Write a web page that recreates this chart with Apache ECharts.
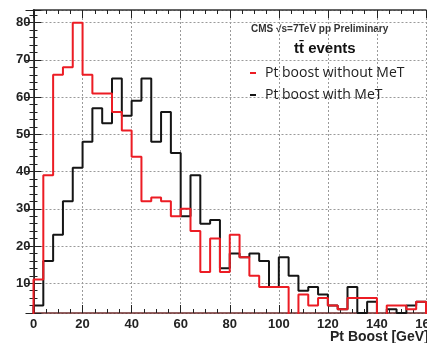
<!DOCTYPE html>
<html><head><meta charset="utf-8">
<script src="https://cdn.jsdelivr.net/npm/echarts@6/dist/echarts.min.js"></script>
<style>html,body{margin:0;padding:0;background:#fff}#c{width:427px;height:343px}</style>
</head><body><div id="c"></div>
<script>
// ---- data ----
const binWidth = 4;                       // GeV per bin
const xRange = [0, 160];
const yRange = [2, 83.4];
const xTickLabels = [0, 20, 40, 60, 80, 100, 120, 140, 160];
const yTickLabels = [10, 20, 30, 40, 50, 60, 70, 80];
const seriesNames = ['Pt boost without MeT', 'Pt boost with MeT'];
const ptBoostWithoutMeT = [11,39,66,68,80,66,61,61,56,51,44,32,33,32,28,30,24,13,22,13,23,17,12,9,9,9,0,7,4,6,4,3,6,6,6,0,4,4,3,5];
const ptBoostWithMeT    = [4,16,23,32,41,48,57,53,65,55,59,65,48,56,45,28,39,26,27,14,18,17,18,16,9,17,12,8,9,7,4,3,9,2,5,0,3,2,4,5];
const headerText = 'CMS \u221As=7TeV pp Preliminary';
const sampleText = 't\u0074\u0304 events';
const xTitle = 'Pt Boost [GeV]';

// histogram outline: left edge of each bin, closed at both ends
function histData(counts) {
  const d = [[xRange[0], 0]];
  counts.forEach((v, i) => d.push([xRange[0] + i * binWidth, v]));
  d.push([xRange[0] + counts.length * binWidth, counts[counts.length - 1]]);
  d.push([xRange[0] + counts.length * binWidth, 0]);
  return d;
}

const chart = echarts.init(document.getElementById('c'), null, {renderer: 'canvas'});
const tickColor = '#222';
const gridLine = {show: true, lineStyle: {color: '#9a9a9a', type: [2, 2], width: 1}};
const labelFont = {fontFamily: 'Liberation Sans', fontWeight: 'bold', fontSize: 13, color: '#222'};

chart.setOption({
  animation: false,
  backgroundColor: '#fff',
  grid: {left: 33.5, right: 1, top: 10, bottom: 30, containLabel: false, outerBoundsMode: 'none'},
  legend: {
    orient: 'vertical', left: 245, top: 61, itemGap: 8,
    icon: 'rect', itemWidth: 6, itemHeight: 2,
    data: seriesNames,
    textStyle: {fontFamily: 'Open Sans', fontSize: 14, color: '#222', padding: [0, 0, 0, 4]}
  },
  xAxis: [{
    type: 'value', position: 'bottom', min: xRange[0], max: xRange[1], interval: 20,
    axisLine: {show: true, lineStyle: {color: '#6e2b2b', width: 1.5}},
    axisTick: {show: true, inside: true, length: 8, lineStyle: {color: tickColor}},
    minorTick: {show: true, splitNumber: 4, length: 4, lineStyle: {color: tickColor}},
    splitLine: gridLine,
    axisLabel: Object.assign({margin: 5, customValues: xTickLabels, hideOverlap: false}, labelFont)
  }, {
    type: 'value', position: 'top', min: xRange[0], max: xRange[1], interval: 20,
    axisLine: {show: true, lineStyle: {color: '#333', width: 1.5}},
    axisTick: {show: true, inside: true, length: 8, lineStyle: {color: tickColor}},
    minorTick: {show: true, splitNumber: 4, length: 4, lineStyle: {color: tickColor}},
    splitLine: {show: false}, axisLabel: {show: false}
  }],
  yAxis: [{
    type: 'value', position: 'left', min: yRange[0], max: yRange[1], splitNumber: 8,
    axisLine: {show: true, lineStyle: {color: '#222', width: 2}},
    axisTick: {show: true, inside: true, length: 8, lineStyle: {color: tickColor}},
    minorTick: {show: true, splitNumber: 5, length: 4, lineStyle: {color: tickColor}},
    splitLine: gridLine,
    axisLabel: Object.assign({margin: 3, customValues: yTickLabels}, labelFont)
  }, {
    type: 'value', position: 'right', min: yRange[0], max: yRange[1], splitNumber: 8,
    axisLine: {show: true, lineStyle: {color: '#555', width: 1}},
    axisTick: {show: true, inside: true, length: 8, lineStyle: {color: tickColor}},
    minorTick: {show: true, splitNumber: 5, length: 4, lineStyle: {color: tickColor}},
    splitLine: {show: false}, axisLabel: {show: false}
  }],
  series: [{
    name: seriesNames[1], type: 'line', step: 'end', xAxisIndex: 0, yAxisIndex: 0,
    symbol: 'none', data: histData(ptBoostWithMeT),
    lineStyle: {color: '#151515', width: 2}, itemStyle: {color: '#151515'}, z: 2
  }, {
    name: seriesNames[0], type: 'line', step: 'end', xAxisIndex: 0, yAxisIndex: 0,
    symbol: 'none', data: histData(ptBoostWithoutMeT),
    lineStyle: {color: '#ec1c24', width: 2}, itemStyle: {color: '#ec1c24'}, z: 3
  }],
  graphic: [
    {type: 'text', left: 251, top: 24, style: {text: headerText, font: 'bold 10px "Liberation Sans"', fill: '#333'}},
    {type: 'text', left: 294, top: 41, style: {text: sampleText, font: 'bold 15px "Liberation Sans"', fill: '#111'}},
    {type: 'text', left: 330, top: 330, style: {text: xTitle, font: 'bold 14px "Liberation Sans"', fill: '#222'}}
  ]
});
</script></body></html>
